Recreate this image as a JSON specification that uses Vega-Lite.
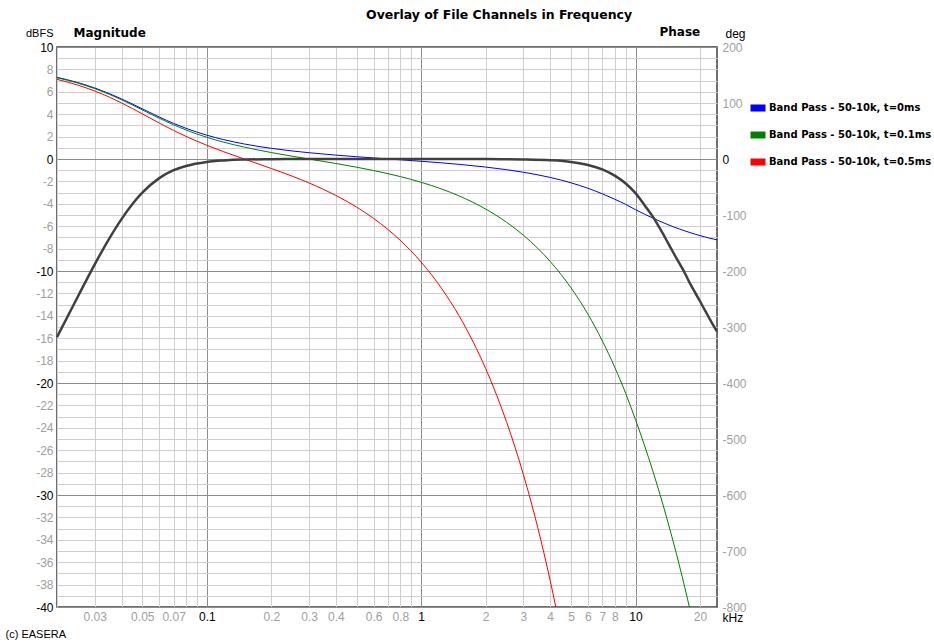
{
  "$schema": "https://vega.github.io/schema/vega-lite/v6.json",
  "width": 660,
  "height": 560,
  "autosize": {"type": "none"},
  "padding": {"left": 57, "top": 47, "right": 217, "bottom": 36},
  "background": "white",
  "config": {
    "font": "Liberation Sans",
    "view": {"stroke": "#404040", "strokeWidth": 1.5},
    "title": {"font": "DejaVu Sans", "fontSize": 12.5, "fontWeight": "bold", "color": "#000000"}
  },
  "title": {"text": "Overlay of File Channels in Frequency", "anchor": "start", "frame": "group", "dx": 309, "offset": 4},
  "datasets": {
    "mag": [
      {"f": 0.02, "dB": -15.9}, {"f": 0.025, "dB": -12.3}, {"f": 0.03, "dB": -9.4}, {"f": 0.035, "dB": -7.13},
      {"f": 0.04, "dB": -5.37}, {"f": 0.045, "dB": -4.02}, {"f": 0.05, "dB": -3.01}, {"f": 0.06, "dB": -1.71},
      {"f": 0.07, "dB": -1.0}, {"f": 0.08, "dB": -0.62}, {"f": 0.1, "dB": -0.26}, {"f": 0.12, "dB": -0.13},
      {"f": 0.15, "dB": -0.05}, {"f": 0.2, "dB": -0.02}, {"f": 0.3, "dB": 0}, {"f": 0.5, "dB": 0},
      {"f": 1, "dB": 0}, {"f": 2, "dB": -0.01}, {"f": 3, "dB": -0.04}, {"f": 4, "dB": -0.11},
      {"f": 5, "dB": -0.26}, {"f": 6, "dB": -0.53}, {"f": 7, "dB": -0.93}, {"f": 8, "dB": -1.49},
      {"f": 9, "dB": -2.19}, {"f": 10, "dB": -3.05}, {"f": 11, "dB": -4.1}, {"f": 12, "dB": -5.1},
      {"f": 13, "dB": -6.2}, {"f": 14, "dB": -7.3}, {"f": 15, "dB": -8.35}, {"f": 16, "dB": -9.3},
      {"f": 17, "dB": -10.2}, {"f": 18, "dB": -11.15}, {"f": 19, "dB": -11.95}, {"f": 20, "dB": -12.7},
      {"f": 21, "dB": -13.45}, {"f": 22, "dB": -14.15}, {"f": 23, "dB": -14.8}, {"f": 24, "dB": -15.4}
    ],
    "phase": [
      {"s": "Band Pass - 50-10k, t=0ms", "f": 0.02, "deg": 145.88},
      {"s": "Band Pass - 50-10k, t=0ms", "f": 0.025, "deg": 136.49},
      {"s": "Band Pass - 50-10k, t=0ms", "f": 0.03, "deg": 126.79},
      {"s": "Band Pass - 50-10k, t=0ms", "f": 0.035, "deg": 116.98},
      {"s": "Band Pass - 50-10k, t=0ms", "f": 0.04, "deg": 107.33},
      {"s": "Band Pass - 50-10k, t=0ms", "f": 0.045, "deg": 98.13},
      {"s": "Band Pass - 50-10k, t=0ms", "f": 0.05, "deg": 89.6},
      {"s": "Band Pass - 50-10k, t=0ms", "f": 0.06, "deg": 74.97},
      {"s": "Band Pass - 50-10k, t=0ms", "f": 0.07, "deg": 63.56},
      {"s": "Band Pass - 50-10k, t=0ms", "f": 0.08, "deg": 54.77},
      {"s": "Band Pass - 50-10k, t=0ms", "f": 0.1, "deg": 42.5},
      {"s": "Band Pass - 50-10k, t=0ms", "f": 0.12, "deg": 34.52},
      {"s": "Band Pass - 50-10k, t=0ms", "f": 0.15, "deg": 26.72},
      {"s": "Band Pass - 50-10k, t=0ms", "f": 0.2, "deg": 19.04},
      {"s": "Band Pass - 50-10k, t=0ms", "f": 0.25, "deg": 14.39},
      {"s": "Band Pass - 50-10k, t=0ms", "f": 0.3, "deg": 11.2},
      {"s": "Band Pass - 50-10k, t=0ms", "f": 0.4, "deg": 6.94},
      {"s": "Band Pass - 50-10k, t=0ms", "f": 0.5, "deg": 4.08},
      {"s": "Band Pass - 50-10k, t=0ms", "f": 0.6, "deg": 1.9},
      {"s": "Band Pass - 50-10k, t=0ms", "f": 0.8, "deg": -1.43},
      {"s": "Band Pass - 50-10k, t=0ms", "f": 1, "deg": -4.08},
      {"s": "Band Pass - 50-10k, t=0ms", "f": 1.25, "deg": -6.94},
      {"s": "Band Pass - 50-10k, t=0ms", "f": 1.5, "deg": -9.54},
      {"s": "Band Pass - 50-10k, t=0ms", "f": 2, "deg": -14.39},
      {"s": "Band Pass - 50-10k, t=0ms", "f": 2.5, "deg": -19.04},
      {"s": "Band Pass - 50-10k, t=0ms", "f": 3, "deg": -23.65},
      {"s": "Band Pass - 50-10k, t=0ms", "f": 3.5, "deg": -28.27},
      {"s": "Band Pass - 50-10k, t=0ms", "f": 4, "deg": -32.95},
      {"s": "Band Pass - 50-10k, t=0ms", "f": 4.5, "deg": -37.69},
      {"s": "Band Pass - 50-10k, t=0ms", "f": 5, "deg": -42.5},
      {"s": "Band Pass - 50-10k, t=0ms", "f": 6, "deg": -52.3},
      {"s": "Band Pass - 50-10k, t=0ms", "f": 7, "deg": -62.16},
      {"s": "Band Pass - 50-10k, t=0ms", "f": 8, "deg": -71.84},
      {"s": "Band Pass - 50-10k, t=0ms", "f": 9, "deg": -81.06},
      {"s": "Band Pass - 50-10k, t=0ms", "f": 10, "deg": -90.5},
      {"s": "Band Pass - 50-10k, t=0ms", "f": 11, "deg": -98.3},
      {"s": "Band Pass - 50-10k, t=0ms", "f": 12, "deg": -105.2},
      {"s": "Band Pass - 50-10k, t=0ms", "f": 13, "deg": -111.2},
      {"s": "Band Pass - 50-10k, t=0ms", "f": 14, "deg": -116.4},
      {"s": "Band Pass - 50-10k, t=0ms", "f": 15, "deg": -121.0},
      {"s": "Band Pass - 50-10k, t=0ms", "f": 16, "deg": -124.9},
      {"s": "Band Pass - 50-10k, t=0ms", "f": 17, "deg": -128.4},
      {"s": "Band Pass - 50-10k, t=0ms", "f": 18, "deg": -131.5},
      {"s": "Band Pass - 50-10k, t=0ms", "f": 19, "deg": -134.3},
      {"s": "Band Pass - 50-10k, t=0ms", "f": 20, "deg": -136.8},
      {"s": "Band Pass - 50-10k, t=0ms", "f": 21, "deg": -139.0},
      {"s": "Band Pass - 50-10k, t=0ms", "f": 22, "deg": -141.0},
      {"s": "Band Pass - 50-10k, t=0ms", "f": 23, "deg": -142.8},
      {"s": "Band Pass - 50-10k, t=0ms", "f": 24, "deg": -144.4},
      {"s": "Band Pass - 50-10k, t=0.1ms", "f": 0.02, "deg": 145.13},
      {"s": "Band Pass - 50-10k, t=0.1ms", "f": 0.025, "deg": 135.55},
      {"s": "Band Pass - 50-10k, t=0.1ms", "f": 0.03, "deg": 125.67},
      {"s": "Band Pass - 50-10k, t=0.1ms", "f": 0.035, "deg": 115.67},
      {"s": "Band Pass - 50-10k, t=0.1ms", "f": 0.04, "deg": 105.83},
      {"s": "Band Pass - 50-10k, t=0.1ms", "f": 0.045, "deg": 96.44},
      {"s": "Band Pass - 50-10k, t=0.1ms", "f": 0.05, "deg": 87.73},
      {"s": "Band Pass - 50-10k, t=0.1ms", "f": 0.06, "deg": 72.72},
      {"s": "Band Pass - 50-10k, t=0.1ms", "f": 0.07, "deg": 60.94},
      {"s": "Band Pass - 50-10k, t=0.1ms", "f": 0.08, "deg": 51.77},
      {"s": "Band Pass - 50-10k, t=0.1ms", "f": 0.1, "deg": 38.75},
      {"s": "Band Pass - 50-10k, t=0.1ms", "f": 0.12, "deg": 30.02},
      {"s": "Band Pass - 50-10k, t=0.1ms", "f": 0.15, "deg": 21.1},
      {"s": "Band Pass - 50-10k, t=0.1ms", "f": 0.2, "deg": 11.54},
      {"s": "Band Pass - 50-10k, t=0.1ms", "f": 0.25, "deg": 5.02},
      {"s": "Band Pass - 50-10k, t=0.1ms", "f": 0.3, "deg": -0.05},
      {"s": "Band Pass - 50-10k, t=0.1ms", "f": 0.4, "deg": -8.06},
      {"s": "Band Pass - 50-10k, t=0.1ms", "f": 0.5, "deg": -14.67},
      {"s": "Band Pass - 50-10k, t=0.1ms", "f": 0.6, "deg": -20.6},
      {"s": "Band Pass - 50-10k, t=0.1ms", "f": 0.8, "deg": -31.43},
      {"s": "Band Pass - 50-10k, t=0.1ms", "f": 1, "deg": -41.58},
      {"s": "Band Pass - 50-10k, t=0.1ms", "f": 1.25, "deg": -53.82},
      {"s": "Band Pass - 50-10k, t=0.1ms", "f": 1.5, "deg": -65.79},
      {"s": "Band Pass - 50-10k, t=0.1ms", "f": 2, "deg": -89.39},
      {"s": "Band Pass - 50-10k, t=0.1ms", "f": 2.5, "deg": -112.79},
      {"s": "Band Pass - 50-10k, t=0.1ms", "f": 3, "deg": -136.15},
      {"s": "Band Pass - 50-10k, t=0.1ms", "f": 3.5, "deg": -159.52},
      {"s": "Band Pass - 50-10k, t=0.1ms", "f": 4, "deg": -182.95},
      {"s": "Band Pass - 50-10k, t=0.1ms", "f": 4.5, "deg": -206.44},
      {"s": "Band Pass - 50-10k, t=0.1ms", "f": 5, "deg": -230.0},
      {"s": "Band Pass - 50-10k, t=0.1ms", "f": 6, "deg": -277.3},
      {"s": "Band Pass - 50-10k, t=0.1ms", "f": 7, "deg": -324.66},
      {"s": "Band Pass - 50-10k, t=0.1ms", "f": 8, "deg": -371.84},
      {"s": "Band Pass - 50-10k, t=0.1ms", "f": 9, "deg": -418.56},
      {"s": "Band Pass - 50-10k, t=0.1ms", "f": 10, "deg": -465.5},
      {"s": "Band Pass - 50-10k, t=0.1ms", "f": 11, "deg": -510.8},
      {"s": "Band Pass - 50-10k, t=0.1ms", "f": 12, "deg": -555.2},
      {"s": "Band Pass - 50-10k, t=0.1ms", "f": 13, "deg": -598.7},
      {"s": "Band Pass - 50-10k, t=0.1ms", "f": 14, "deg": -641.4},
      {"s": "Band Pass - 50-10k, t=0.1ms", "f": 15, "deg": -683.5},
      {"s": "Band Pass - 50-10k, t=0.1ms", "f": 16, "deg": -724.9},
      {"s": "Band Pass - 50-10k, t=0.1ms", "f": 17, "deg": -765.9},
      {"s": "Band Pass - 50-10k, t=0.1ms", "f": 18, "deg": -806.5},
      {"s": "Band Pass - 50-10k, t=0.1ms", "f": 19, "deg": -846.8},
      {"s": "Band Pass - 50-10k, t=0.5ms", "f": 0.02, "deg": 142.28},
      {"s": "Band Pass - 50-10k, t=0.5ms", "f": 0.025, "deg": 131.99},
      {"s": "Band Pass - 50-10k, t=0.5ms", "f": 0.03, "deg": 121.39},
      {"s": "Band Pass - 50-10k, t=0.5ms", "f": 0.035, "deg": 110.68},
      {"s": "Band Pass - 50-10k, t=0.5ms", "f": 0.04, "deg": 100.13},
      {"s": "Band Pass - 50-10k, t=0.5ms", "f": 0.045, "deg": 90.03},
      {"s": "Band Pass - 50-10k, t=0.5ms", "f": 0.05, "deg": 80.6},
      {"s": "Band Pass - 50-10k, t=0.5ms", "f": 0.06, "deg": 64.17},
      {"s": "Band Pass - 50-10k, t=0.5ms", "f": 0.07, "deg": 50.96},
      {"s": "Band Pass - 50-10k, t=0.5ms", "f": 0.08, "deg": 40.37},
      {"s": "Band Pass - 50-10k, t=0.5ms", "f": 0.1, "deg": 24.5},
      {"s": "Band Pass - 50-10k, t=0.5ms", "f": 0.12, "deg": 12.92},
      {"s": "Band Pass - 50-10k, t=0.5ms", "f": 0.15, "deg": -0.28},
      {"s": "Band Pass - 50-10k, t=0.5ms", "f": 0.2, "deg": -16.96},
      {"s": "Band Pass - 50-10k, t=0.5ms", "f": 0.25, "deg": -30.61},
      {"s": "Band Pass - 50-10k, t=0.5ms", "f": 0.3, "deg": -42.8},
      {"s": "Band Pass - 50-10k, t=0.5ms", "f": 0.4, "deg": -65.06},
      {"s": "Band Pass - 50-10k, t=0.5ms", "f": 0.5, "deg": -85.92},
      {"s": "Band Pass - 50-10k, t=0.5ms", "f": 0.6, "deg": -106.1},
      {"s": "Band Pass - 50-10k, t=0.5ms", "f": 0.8, "deg": -145.43},
      {"s": "Band Pass - 50-10k, t=0.5ms", "f": 1, "deg": -184.08},
      {"s": "Band Pass - 50-10k, t=0.5ms", "f": 1.25, "deg": -231.94},
      {"s": "Band Pass - 50-10k, t=0.5ms", "f": 1.5, "deg": -279.54},
      {"s": "Band Pass - 50-10k, t=0.5ms", "f": 1.75, "deg": -327.01},
      {"s": "Band Pass - 50-10k, t=0.5ms", "f": 2, "deg": -374.39},
      {"s": "Band Pass - 50-10k, t=0.5ms", "f": 2.25, "deg": -421.73},
      {"s": "Band Pass - 50-10k, t=0.5ms", "f": 2.5, "deg": -469.04},
      {"s": "Band Pass - 50-10k, t=0.5ms", "f": 2.75, "deg": -516.35},
      {"s": "Band Pass - 50-10k, t=0.5ms", "f": 3, "deg": -563.65},
      {"s": "Band Pass - 50-10k, t=0.5ms", "f": 3.25, "deg": -610.95},
      {"s": "Band Pass - 50-10k, t=0.5ms", "f": 3.5, "deg": -658.27},
      {"s": "Band Pass - 50-10k, t=0.5ms", "f": 3.75, "deg": -705.6},
      {"s": "Band Pass - 50-10k, t=0.5ms", "f": 4, "deg": -752.95},
      {"s": "Band Pass - 50-10k, t=0.5ms", "f": 4.25, "deg": -800.31},
      {"s": "Band Pass - 50-10k, t=0.5ms", "f": 4.5, "deg": -847.69}
    ]
  },
  "encoding": {
    "x": {
      "field": "f",
      "type": "quantitative",
      "scale": {"type": "log", "domain": [0.02, 24], "nice": false},
      "axis": {
        "values": [0.02, 0.03, 0.04, 0.05, 0.06, 0.07, 0.08, 0.09, 0.1, 0.2, 0.3, 0.4, 0.5, 0.6, 0.7, 0.8, 0.9, 1, 2, 3, 4, 5, 6, 7, 8, 9, 10, 20],
        "format": "~g",
        "labelExpr": "indexof(['0.03','0.05','0.07','0.1','0.2','0.3','0.4','0.6','0.8','1','2','3','4','5','6','7','8','10','20'], datum.label) >= 0 ? datum.label : ''",
        "grid": true,
        "gridColor": {"condition": {"test": "datum.value == 0.1 || datum.value == 1 || datum.value == 10", "value": "#8c8c8c"}, "value": "#cfcfcf"},
        "gridWidth": 1,
        "ticks": false,
        "domain": false,
        "labelColor": {"condition": {"test": "datum.value == 0.1 || datum.value == 1 || datum.value == 10", "value": "#000000"}, "value": "#a0a0a0"},
        "labelFont": "Liberation Sans",
        "labelFontSize": 12,
        "labelPadding": 4,
        "labelFlush": false,
        "labelOverlap": false,
        "title": "kHz",
        "titleX": 665,
        "titleY": 10,
        "titleAlign": "left",
        "titleBaseline": "middle",
        "titleFont": "Liberation Sans",
        "titleFontSize": 12,
        "titleFontWeight": "normal",
        "titleColor": "#000000"
      }
    }
  },
  "layer": [
    {
      "data": {"name": "phase"},
      "mark": {"type": "line", "strokeWidth": 1, "clip": true, "interpolate": "monotone"},
      "encoding": {
        "y": {
          "field": "deg",
          "type": "quantitative",
          "scale": {"domain": [-800, 200], "nice": false, "zero": false},
          "axis": {
            "orient": "right",
            "values": [-800, -700, -600, -500, -400, -300, -200, -100, 0, 100, 200],
            "labelExpr": "'' + datum.value",
            "grid": false,
            "ticks": false,
            "domain": false,
            "labelAlign": "left",
            "labelPadding": 5,
            "labelFont": "Liberation Sans",
            "labelFontSize": 12,
            "labelFlush": false,
            "labelOverlap": false,
            "labelColor": {"condition": {"test": "datum.value == 0", "value": "#000000"}, "value": "#a0a0a0"},
            "title": "deg",
            "titleAngle": 0,
            "titleX": 8,
            "titleY": -14,
            "titleAlign": "left",
            "titleBaseline": "middle",
            "titleFont": "Liberation Sans",
            "titleFontSize": 12,
            "titleFontWeight": "normal",
            "titleColor": "#000000"
          }
        },
        "color": {
          "field": "s",
          "type": "nominal",
          "scale": {
            "domain": ["Band Pass - 50-10k, t=0ms", "Band Pass - 50-10k, t=0.1ms", "Band Pass - 50-10k, t=0.5ms"],
            "range": ["#0000ff", "#008000", "#ff0000"]
          },
          "legend": {
            "orient": "none",
            "legendX": 690,
            "legendY": 50,
            "title": null,
            "padding": 0,
            "symbolType": "stroke",
            "symbolSize": 225,
            "symbolStrokeWidth": 7,
            "symbolOpacity": 1,
            "labelFont": "DejaVu Sans",
            "labelFontSize": 10,
            "labelFontWeight": "bold",
            "labelColor": "#000000",
            "labelOffset": 0,
            "labelLimit": 400,
            "rowPadding": -1
          }
        }
      }
    },
    {
      "data": {"name": "mag"},
      "mark": {"type": "line", "color": "#404040", "strokeWidth": 2.5, "interpolate": "monotone"},
      "encoding": {
        "y": {
          "field": "dB",
          "type": "quantitative",
          "scale": {"domain": [-40, 10], "nice": false, "zero": false},
          "axis": {
            "orient": "left",
            "values": [-40, -39, -38, -37, -36, -35, -34, -33, -32, -31, -30, -29, -28, -27, -26, -25, -24, -23, -22, -21, -20, -19, -18, -17, -16, -15, -14, -13, -12, -11, -10, -9, -8, -7, -6, -5, -4, -3, -2, -1, 0, 1, 2, 3, 4, 5, 6, 7, 8, 9, 10],
            "labelExpr": "datum.value % 2 == 0 ? '' + datum.value : ''",
            "grid": true,
            "gridColor": {"condition": {"test": "datum.value % 10 == 0", "value": "#8c8c8c"}, "value": "#cfcfcf"},
            "gridWidth": 1,
            "ticks": false,
            "domain": false,
            "labelPadding": 4,
            "labelFont": "Liberation Sans",
            "labelFontSize": 12,
            "labelFlush": false,
            "labelOverlap": false,
            "labelColor": {"condition": {"test": "datum.value % 10 == 0", "value": "#000000"}, "value": "#a0a0a0"},
            "title": "dBFS",
            "titleAngle": 0,
            "titleX": -4,
            "titleY": -14,
            "titleAlign": "right",
            "titleBaseline": "middle",
            "titleFont": "Liberation Sans",
            "titleFontSize": 11,
            "titleFontWeight": "normal",
            "titleColor": "#000000"
          }
        }
      }
    },
    {
      "data": {"name": "mag"},
      "mark": {"type": "line", "opacity": 0},
      "encoding": {
        "y": {
          "field": "dB",
          "type": "quantitative",
          "scale": {"domain": [-40, 10], "nice": false, "zero": false},
          "axis": {
            "orient": "left",
            "labels": false,
            "grid": false,
            "ticks": false,
            "domain": false,
            "title": "Magnitude",
            "titleAngle": 0,
            "titleX": 16,
            "titleY": -15,
            "titleAlign": "left",
            "titleBaseline": "middle",
            "titleFont": "DejaVu Sans",
            "titleFontSize": 12,
            "titleFontWeight": "bold",
            "titleColor": "#000000"
          }
        }
      }
    },
    {
      "data": {"name": "mag"},
      "mark": {"type": "line", "opacity": 0},
      "encoding": {
        "y": {
          "field": "dB",
          "type": "quantitative",
          "scale": {"domain": [-40, 10], "nice": false, "zero": false},
          "axis": {
            "orient": "right",
            "labels": false,
            "grid": false,
            "ticks": false,
            "domain": false,
            "title": "Phase",
            "titleAngle": 0,
            "titleX": -58,
            "titleY": -16,
            "titleAlign": "left",
            "titleBaseline": "middle",
            "titleFont": "DejaVu Sans",
            "titleFontSize": 12,
            "titleFontWeight": "bold",
            "titleColor": "#000000"
          }
        }
      }
    },
    {
      "data": {"name": "mag"},
      "mark": {"type": "line", "opacity": 0},
      "encoding": {
        "y": {
          "field": "dB",
          "type": "quantitative",
          "scale": {"domain": [-40, 10], "nice": false, "zero": false},
          "axis": {
            "orient": "left",
            "labels": false,
            "grid": false,
            "ticks": false,
            "domain": false,
            "title": "(c) EASERA",
            "titleAngle": 0,
            "titleX": -52,
            "titleY": 587,
            "titleAlign": "left",
            "titleBaseline": "middle",
            "titleFont": "Liberation Sans",
            "titleFontSize": 11,
            "titleFontWeight": "normal",
            "titleColor": "#000000"
          }
        }
      }
    }
  ],
  "resolve": {"scale": {"y": "independent"}, "axis": {"y": "independent"}}
}
